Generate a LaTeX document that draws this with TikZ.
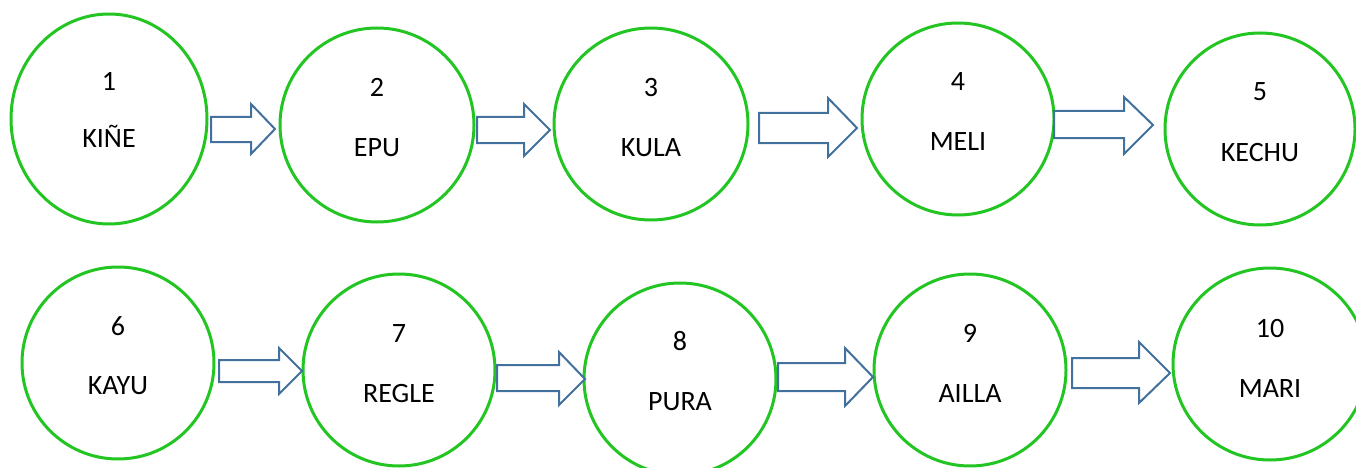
\documentclass[tikz,border=0pt]{standalone}
\usepackage{fontspec}
\setmainfont{Carlito}
\usetikzlibrary{calc}
\usetikzlibrary{shapes.geometric}
\definecolor{ringgreen}{RGB}{34,197,34}
\definecolor{arrowblue}{RGB}{65,113,156}
\tikzset{
  ring/.style={ellipse,draw=ringgreen,line width=3pt,inner sep=0pt,minimum width=192pt,minimum height=192pt},
  blockarrow/.style={draw=arrowblue,line width=2pt,fill=white,line join=miter},
  num/.style={anchor=base,font=\fontsize{28}{34}\selectfont},
  word/.style={anchor=base,font=\fontsize{28}{34}\selectfont}
}
\begin{document}
\begin{tikzpicture}[x=1pt,y=-1pt]
\useasboundingbox (0,0) rectangle (1356,468);
% top row
\node[ring,minimum width=196pt,minimum height=210pt] (c1) at (109,119) {};
\node[ring,minimum width=194pt,minimum height=194pt] (c2) at (377,125) {};
\node[ring,minimum width=194pt] (c3) at (651,124) {};
\node[ring] (c4) at (958,119) {};
\node[ring,minimum width=190pt] (c5) at (1260,129) {};
\node[num] (n1) at ($ (c1)+(0,-28) $) {1};
\node[word] (w1) at ($ (c1)+(0,28) $) {KIÑE};
\node[num] (n2) at ($ (c2)+(0,-28) $) {2};
\node[word] (w2) at ($ (c2)+(0,31) $) {EPU};
\node[num] (n3) at ($ (c3)+(0,-27) $) {3};
\node[word] (w3) at ($ (c3)+(0,32) $) {KULA};
\node[num] (n4) at ($ (c4)+(0,-28) $) {4};
\node[word] (w4) at ($ (c4)+(0,31) $) {MELI};
\node[num] (n5) at ($ (c5)+(0,-28) $) {5};
\node[word] (w5) at ($ (c5)+(0,32) $) {KECHU};

% bottom row
\node[ring] (c6) at (118,363) {};
\node[ring] (c7) at (399,370) {};
\node[ring] (c8) at (680,379) {};
\node[ring] (c9) at (970,370) {};
\node[ring,minimum width=194pt] (c10) at (1270,364) {};
\node[num] (n6) at ($ (c6)+(0,-28) $) {6};
\node[word] (w6) at ($ (c6)+(0,31) $) {KAYU};
\node[num] (n7) at ($ (c7)+(0,-28) $) {7};
\node[word] (w7) at ($ (c7)+(0,32) $) {REGLE};
\node[num] (n8) at ($ (c8)+(0,-29) $) {8};
\node[word] (w8) at ($ (c8)+(0,31) $) {PURA};
\node[num] (n9) at ($ (c9)+(0,-28) $) {9};
\node[word] (w9) at ($ (c9)+(0,32) $) {AILLA};
\node[num] (n10) at ($ (c10)+(0,-27) $) {10};
\node[word] (w10) at ($ (c10)+(0,33) $) {MARI};

% block arrows
\draw[blockarrow] (211,117)--(251,117)--(251,104)--(275,129)--(251,154)--(251,142)--(211,142)--cycle;
\draw[blockarrow] (477,117)--(524,117)--(524,104)--(550,130)--(524,156)--(524,143)--(477,143)--cycle;
\draw[blockarrow] (759,113)--(828,113)--(828,98)--(857,128)--(828,157)--(828,143)--(759,143)--cycle;
\draw[blockarrow] (1054,111)--(1124,111)--(1124,97)--(1153,125)--(1124,154)--(1124,138)--(1054,138)--cycle;
\draw[blockarrow] (219,360)--(279,360)--(279,348)--(302,371)--(279,394)--(279,382)--(219,382)--cycle;
\draw[blockarrow] (497,365)--(559,365)--(559,352)--(585,379)--(559,405)--(559,391)--(497,391)--cycle;
\draw[blockarrow] (778,363)--(845,363)--(845,348)--(873,377)--(845,406)--(845,391)--(778,391)--cycle;
\draw[blockarrow] (1072,358)--(1139,358)--(1139,342)--(1170,373)--(1139,403)--(1139,388)--(1072,388)--cycle;
\end{tikzpicture}
\end{document}
